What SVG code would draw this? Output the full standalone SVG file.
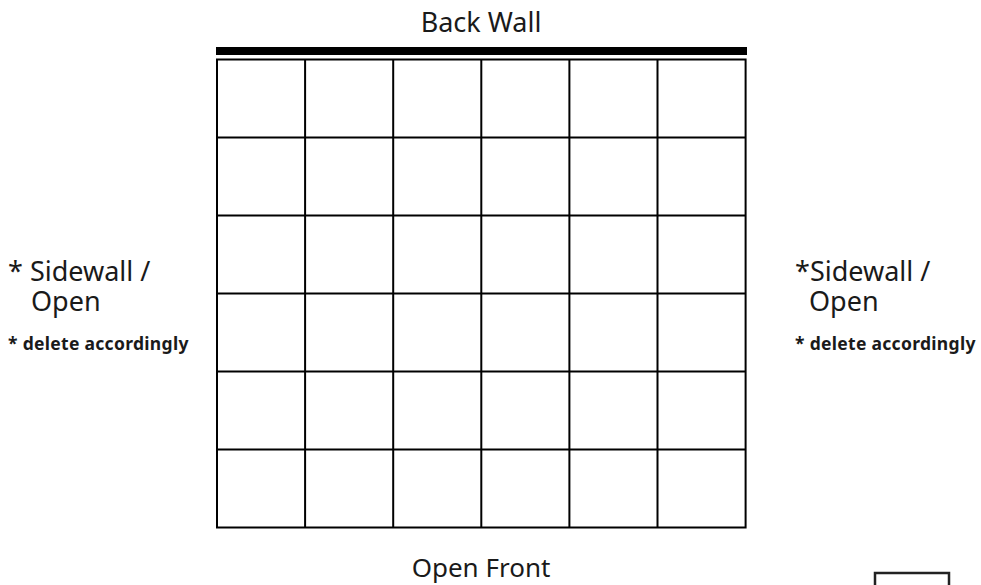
<svg xmlns="http://www.w3.org/2000/svg" width="981" height="585" viewBox="0 0 981 585">
<style>
.lbl{font-family:"Noto Sans","Open Sans","DejaVu Sans",sans-serif;font-size:27px;fill:#1a1a1a}
.note{font-family:"Noto Sans","Open Sans","DejaVu Sans",sans-serif;font-size:17.5px;font-weight:bold;fill:#1a1a1a;letter-spacing:0.3px}
.grid{stroke:#000;stroke-width:2;fill:none}
</style>
<rect width="981" height="585" fill="#fff"/>
<g id="back-wall">
<rect x="216" y="47" width="531" height="8" fill="#000"/>
<text class="lbl" x="481" y="32" text-anchor="middle">Back Wall</text>
</g>
<g id="grid">
<rect class="grid" x="217" y="59.5" width="528.6" height="468"/>
<path class="grid" d="M305.1 59.5V527.5M393.2 59.5V527.5M481.3 59.5V527.5M569.4 59.5V527.5M657.5 59.5V527.5M217 137.5H745.6M217 215.5H745.6M217 293.5H745.6M217 371.5H745.6M217 449.5H745.6"/>
</g>
<g id="left-side">
<text class="lbl"><tspan x="8" y="281">* Sidewall /</tspan><tspan x="31" y="311">Open</tspan></text>
<text class="note" x="8" y="350">* delete accordingly</text>
</g>
<g id="right-side">
<text class="lbl"><tspan x="795" y="281">*Sidewall /</tspan><tspan x="809" y="311">Open</tspan></text>
<text class="note" x="795" y="350">* delete accordingly</text>
</g>
<g id="front">
<text class="lbl" x="481" y="577" text-anchor="middle" style="font-size:26px">Open Front</text>
</g>
<g id="corner-box">
<rect x="875" y="573" width="74" height="20" fill="none" stroke="#222" stroke-width="2.5"/>
</g>
</svg>
